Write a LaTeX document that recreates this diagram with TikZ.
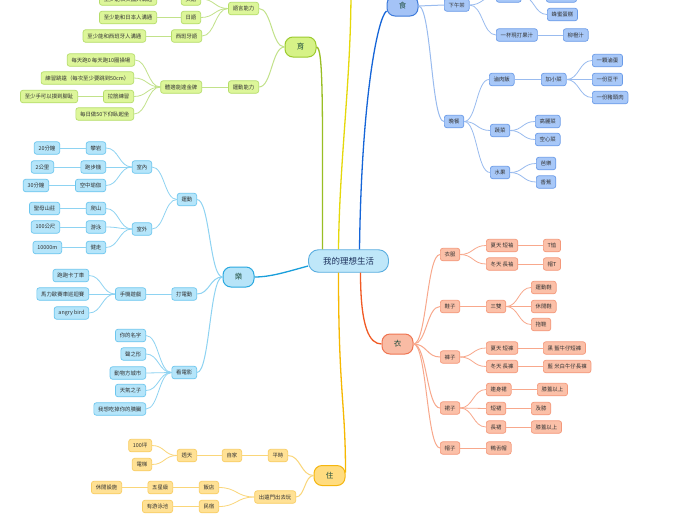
\documentclass[tikz,border=0pt]{standalone}
\usepackage{fontspec}
\newfontfamily\cjk{Noto Sans CJK TC}
\usetikzlibrary{calc}
\definecolor{txt}{HTML}{333333}
\definecolor{maintxt}{HTML}{1F4E3D}
\definecolor{gfill}{HTML}{DDF69A}\definecolor{gdraw}{HTML}{B5DD6A}\definecolor{gline}{HTML}{C2E28A}
\definecolor{gmfill}{HTML}{D6F287}\definecolor{gmdraw}{HTML}{9CCB2E}\definecolor{gcline}{HTML}{99BE24}
\definecolor{cfill}{HTML}{B5E5FA}\definecolor{cdraw}{HTML}{6CC6EE}\definecolor{cline}{HTML}{8ED3F2}
\definecolor{cmfill}{HTML}{B7E4F8}\definecolor{cmdraw}{HTML}{2AA9E0}\definecolor{ccline}{HTML}{1A9FDB}
\definecolor{bfill}{HTML}{A8C8F8}\definecolor{bdraw}{HTML}{6A9BE8}\definecolor{bline}{HTML}{99BBEF}
\definecolor{bmfill}{HTML}{A4C3F6}\definecolor{bmdraw}{HTML}{3E7BDB}\definecolor{bcline}{HTML}{1565D8}
\definecolor{rfill}{HTML}{FBC0A8}\definecolor{rdraw}{HTML}{F4987A}\definecolor{rline}{HTML}{F8A88C}
\definecolor{rmfill}{HTML}{F9BBA4}\definecolor{rmdraw}{HTML}{EF7552}\definecolor{rcline}{HTML}{F15A24}
\definecolor{yfill}{HTML}{FFE195}\definecolor{ydraw}{HTML}{F8CD62}\definecolor{yline}{HTML}{FAD679}
\definecolor{ymfill}{HTML}{FFDC80}\definecolor{ymdraw}{HTML}{F5B60F}\definecolor{ycline}{HTML}{F6B800}
\definecolor{upline}{HTML}{E5D80A}
\definecolor{ctrfill}{HTML}{BFE7F9}\definecolor{ctrdraw}{HTML}{5AAEE0}\definecolor{ctrtxt}{HTML}{1B2F5A}
\tikzset{
  leaf/.style={draw, rounded corners=2.5pt, line width=0.7pt, inner xsep=4.3pt, inner ysep=0pt,
    minimum height=12.5pt, text=txt, font=\cjk\fontsize{5.4}{6}\selectfont},
  gn/.style={leaf, fill=gfill, draw=gdraw},
  cn/.style={leaf, fill=cfill, draw=cdraw},
  bn/.style={leaf, fill=bfill, draw=bdraw},
  rn/.style={leaf, fill=rfill, draw=rdraw},
  yn/.style={leaf, fill=yfill, draw=ydraw},
  mainnode/.style={draw, rounded corners=8pt, line width=1pt, minimum width=31pt, minimum height=20pt,
    inner sep=0pt, text=maintxt, font=\cjk\fontsize{7.5}{8}\selectfont},
  gl/.style={draw=gline, line width=0.8pt},
  cl/.style={draw=cline, line width=0.8pt},
  bl/.style={draw=bline, line width=0.8pt},
  rl/.style={draw=rline, line width=0.8pt},
  yl/.style={draw=yline, line width=0.8pt},
}
\newcommand\edgeR[3]{\draw[#1] let \p1=(#2.east), \p2=(#3.west), \n1={(\x2-\x1)/2} in (\p1) .. controls +(\n1,0) and +(-\n1,0) .. (\p2);}
\newcommand\edgeL[3]{\draw[#1] let \p1=(#2.west), \p2=(#3.east), \n1={(\x1-\x2)/2} in (\p1) .. controls +(-\n1,0) and +(\n1,0) .. (\p2);}
\begin{document}
\begin{tikzpicture}[x=1pt,y=-1pt]
\useasboundingbox (0,0) rectangle (696,520);
\clip (0,0) rectangle (696,520);
\fill[white] (0,0) rectangle (696,520);

% center
\node[draw=ctrdraw, fill=ctrfill, line width=0.9pt, rounded corners=10pt, minimum width=80pt, minimum height=22.5pt,
  inner sep=0pt, text=ctrtxt, font=\cjk\fontsize{8.5}{9}\selectfont] (c) at (348.5,261) {我的理想生活};

% main nodes
\node[mainnode, fill=gmfill, draw=gmdraw] (yu) at (300.5,47) {育};
\node[mainnode, fill=cmfill, draw=cmdraw] (le) at (238.5,277) {樂};
\node[mainnode, fill=bmfill, draw=bmdraw] (shi) at (402.5,6) {食};
\node[mainnode, fill=rmfill, draw=rmdraw] (yi) at (397.5,344) {衣};
\node[mainnode, fill=ymfill, draw=ymdraw] (zhu) at (329.5,475.5) {住};
\coordinate (up) at (351,-10);

% ---------- 育 ----------
\node[gn, anchor=east] (yy) at (259,8.5) {語言能力};
\node[gn, anchor=east] (yd) at (259,87) {運動能力};
\node[gn, anchor=east] (en) at (201,-1) {英語};
\node[gn, anchor=east] (en1) at (157,-1) {至少能和英國人溝通};
\node[gn, anchor=east] (jp) at (201,17.5) {日語};
\node[gn, anchor=east] (jp1) at (157,17.5) {至少能和日本人溝通};
\node[gn, anchor=east] (es) at (202,36) {西班牙語};
\node[gn, anchor=east] (es1) at (146,36) {至少能和西班牙人溝通};
\node[gn, anchor=east] (tf) at (202,87) {體適能達金牌};
\node[gn, anchor=east] (tf1) at (135,60) {每天跑0 每天跑10圈操場};
\node[gn, anchor=east] (tf2) at (134,78) {練習跳遠（每次至少要跳到50cm）};
\node[gn, anchor=east] (tf3) at (134,96.5) {拉筋練習};
\node[gn, anchor=east] (tf31) at (78,96.5) {至少手可以摸到腳趾};
\node[gn, anchor=east] (tf4) at (134,114) {每日做50下仰臥起坐};

% ---------- 樂 ----------
\node[cn, anchor=east] (yd2) at (197,199.5) {運動};
\node[cn, anchor=east] (dd) at (197,294) {打電動};
\node[cn, anchor=east] (kd) at (197,372.5) {看電影};
\node[cn, anchor=east] (sn) at (152,167) {室內};
\node[cn, anchor=east] (sw) at (152,229) {室外};
\node[cn, anchor=east] (pa) at (106,148) {攀岩};
\node[cn, anchor=east] (pa1) at (60,148) {20分鐘};
\node[cn, anchor=east] (pb) at (106,167) {跑步機};
\node[cn, anchor=east] (pb1) at (54,167) {2公里};
\node[cn, anchor=east] (yj) at (106,185.5) {空中瑜伽};
\node[cn, anchor=east] (yj1) at (49,185.5) {30分鐘};
\node[cn, anchor=east] (ps) at (106,208.5) {爬山};
\node[cn, anchor=east] (ps1) at (60,208.5) {聖母山莊};
\node[cn, anchor=east] (yo) at (106,227) {游泳};
\node[cn, anchor=east] (yo1) at (60,227) {100公尺};
\node[cn, anchor=east] (jz) at (106,247.5) {健走};
\node[cn, anchor=east] (jz1) at (62,247.5) {10000m};
\node[cn, anchor=east] (sj) at (146,294) {手機遊戲};
\node[cn, anchor=east] (g1) at (89,275.5) {跑跑卡丁車};
\node[cn, anchor=east] (g2) at (89,294) {馬力歐賽車巡迴賽};
\node[cn, anchor=east] (g3) at (89,313) {angry bird};
\node[cn, anchor=east] (m1) at (146,335.5) {你的名字};
\node[cn, anchor=east] (m2) at (146,354) {聲之形};
\node[cn, anchor=east] (m3) at (146,373) {動物方城市};
\node[cn, anchor=east] (m4) at (146,390.5) {天氣之子};
\node[cn, anchor=east] (m5) at (146,409) {我想吃掉你的胰臟};

% ---------- 住 ----------
\node[yn, anchor=east] (pt) at (288,455.5) {平時};
\node[yn, anchor=east] (cy) at (296,497) {出遠門出去玩};
\node[yn, anchor=east] (zj) at (242,455.5) {自家};
\node[yn, anchor=east] (tt) at (197,455.5) {透天};
\node[yn, anchor=east] (t1) at (152,445.5) {100坪};
\node[yn, anchor=east] (t2) at (152,464.5) {電梯};
\node[yn, anchor=east] (fd) at (219,487.5) {飯店};
\node[yn, anchor=east] (ms) at (219,506.5) {民宿};
\node[yn, anchor=east] (wx) at (173,487.5) {五星級};
\node[yn, anchor=east] (xx) at (122,487.5) {休閒設施};
\node[yn, anchor=east] (yc) at (173,506.5) {有游泳池};

% ---------- 食 ----------
\node[bn, anchor=west] (xw) at (444,5) {下午茶};
\node[bn, anchor=west] (dx) at (496,-4) {小點心};
\node[bn, anchor=west] (dx1) at (546,-4) {草莓蛋糕};
\node[bn, anchor=west] (dx2) at (547,14.5) {蜂蜜蛋糕};
\node[bn, anchor=west] (gz) at (496,35) {一杯現打果汁};
\node[bn, anchor=west] (gz1) at (563,35) {柳橙汁};
\node[bn, anchor=west] (wc) at (444,121.5) {晚餐};
\node[bn, anchor=west] (lr) at (489,79.5) {滷肉飯};
\node[bn, anchor=west] (xc) at (541,79.5) {加小菜};
\node[bn, anchor=west] (c1) at (592,60.5) {一顆滷蛋};
\node[bn, anchor=west] (c2) at (592,79.5) {一份豆干};
\node[bn, anchor=west] (c3) at (592,97.5) {一份豬頭肉};
\node[bn, anchor=west] (sc) at (490,130.5) {蔬菜};
\node[bn, anchor=west] (s1) at (535,121.5) {高麗菜};
\node[bn, anchor=west] (s2) at (535,139.5) {空心菜};
\node[bn, anchor=west] (sg) at (490,172.5) {水果};
\node[bn, anchor=west] (f1) at (536,163.5) {芭樂};
\node[bn, anchor=west] (f2) at (536,182) {香蕉};

% ---------- 衣 ----------
\node[rn, anchor=west] (yf) at (440,254.5) {衣服};
\node[rn, anchor=west] (xt) at (486,245.5) {夏天 短袖};
\node[rn, anchor=west] (xt1) at (543,245.5) {T恤};
\node[rn, anchor=west] (dt) at (486,264) {冬天 長袖};
\node[rn, anchor=west] (dt1) at (543,264) {帽T};
\node[rn, anchor=west] (xz) at (440,306.5) {鞋子};
\node[rn, anchor=west] (ss) at (486,306.5) {三雙};
\node[rn, anchor=west] (x1) at (531,287.5) {運動鞋};
\node[rn, anchor=west] (x2) at (531,306.5) {休閒鞋};
\node[rn, anchor=west] (x3) at (531,324.5) {拖鞋};
\node[rn, anchor=west] (kz) at (440,357) {褲子};
\node[rn, anchor=west] (k1) at (486,348) {夏天 短褲};
\node[rn, anchor=west] (k11) at (543,348) {黑 藍牛仔短褲};
\node[rn, anchor=west] (k2) at (486,366.5) {冬天 長褲};
\node[rn, anchor=west] (k21) at (543,366.5) {藍 米白牛仔長褲};
\node[rn, anchor=west] (qz) at (440,408) {裙子};
\node[rn, anchor=west] (q1) at (486,389.5) {連身裙};
\node[rn, anchor=west] (q11) at (537,389.5) {膝蓋以上};
\node[rn, anchor=west] (q2) at (486,408.5) {短裙};
\node[rn, anchor=west] (q21) at (531,408.5) {及膝};
\node[rn, anchor=west] (q3) at (486,427) {長裙};
\node[rn, anchor=west] (q31) at (531,427) {膝蓋以上};
\node[rn, anchor=west] (mz) at (440,448) {帽子};
\node[rn, anchor=west] (mz1) at (486,448) {鴨舌帽};

% ---------- main connectors ----------
\draw[gcline, line width=1.3pt] ([xshift=-26pt]c.north) .. controls +(0,-140) and +(7,0) .. (yu.east);
\draw[upline, line width=1.3pt] ([xshift=-10pt]c.north) .. controls +(1,-90) and +(0,90) .. (up);
\draw[bcline, line width=1.3pt] ([xshift=11pt]c.north) .. controls +(2,-150) and +(-9,7) .. ([yshift=-5pt]shi.west);
\draw[ccline, line width=1.3pt] ([yshift=-5pt]c.west) .. controls +(-22,6) and +(16,0) .. (le.east);
\draw[rcline, line width=1.3pt] ([xshift=12pt]c.south) .. controls +(0,55) and +(-12,0) .. (yi.west);
\draw[ycline, line width=1.3pt] ([xshift=-10pt]c.south) .. controls +(0,120) and +(0,-70) .. ([yshift=3pt]zhu.east);

% ---------- 育 edges ----------
\edgeL{gl, line width=1pt}{yu}{yy}
\edgeL{gl, line width=1pt}{yu}{yd}
\edgeL{gl}{yy}{en}\edgeL{gl}{yy}{jp}\edgeL{gl}{yy}{es}
\edgeL{gl}{en}{en1}\edgeL{gl}{jp}{jp1}\edgeL{gl}{es}{es1}
\edgeL{gl}{yd}{tf}
\edgeL{gl}{tf}{tf1}\edgeL{gl}{tf}{tf2}\edgeL{gl}{tf}{tf3}\edgeL{gl}{tf}{tf4}
\edgeL{gl}{tf3}{tf31}

% ---------- 樂 edges ----------
\edgeL{cl, line width=1pt}{le}{yd2}
\edgeL{cl, line width=1pt}{le}{dd}
\edgeL{cl, line width=1pt}{le}{kd}
\edgeL{cl}{yd2}{sn}\edgeL{cl}{yd2}{sw}
\edgeL{cl}{sn}{pa}\edgeL{cl}{sn}{pb}\edgeL{cl}{sn}{yj}
\edgeL{cl}{sw}{ps}\edgeL{cl}{sw}{yo}\edgeL{cl}{sw}{jz}
\edgeL{cl}{pa}{pa1}\edgeL{cl}{pb}{pb1}\edgeL{cl}{yj}{yj1}
\edgeL{cl}{ps}{ps1}\edgeL{cl}{yo}{yo1}\edgeL{cl}{jz}{jz1}
\edgeL{cl}{dd}{sj}
\edgeL{cl}{sj}{g1}\edgeL{cl}{sj}{g2}\edgeL{cl}{sj}{g3}
\edgeL{cl}{kd}{m1}\edgeL{cl}{kd}{m2}\edgeL{cl}{kd}{m3}\edgeL{cl}{kd}{m4}\edgeL{cl}{kd}{m5}

% ---------- 住 edges ----------
\edgeL{yl, line width=1pt}{zhu}{pt}
\edgeL{yl, line width=1pt}{zhu}{cy}
\edgeL{yl}{pt}{zj}\edgeL{yl}{zj}{tt}
\edgeL{yl}{tt}{t1}\edgeL{yl}{tt}{t2}
\edgeL{yl}{cy}{fd}\edgeL{yl}{cy}{ms}
\edgeL{yl}{fd}{wx}\edgeL{yl}{wx}{xx}\edgeL{yl}{ms}{yc}

% ---------- 食 edges ----------
\edgeR{bl, line width=1pt}{shi}{xw}
\edgeR{bl, line width=1pt}{shi}{wc}
\edgeR{bl}{xw}{dx}\edgeR{bl}{xw}{gz}
\edgeR{bl}{dx}{dx1}\edgeR{bl}{dx}{dx2}\edgeR{bl}{gz}{gz1}
\edgeR{bl}{wc}{lr}\edgeR{bl}{wc}{sc}\edgeR{bl}{wc}{sg}
\edgeR{bl}{lr}{xc}
\edgeR{bl}{xc}{c1}\edgeR{bl}{xc}{c2}\edgeR{bl}{xc}{c3}
\edgeR{bl}{sc}{s1}\edgeR{bl}{sc}{s2}
\edgeR{bl}{sg}{f1}\edgeR{bl}{sg}{f2}

% ---------- 衣 edges ----------
\edgeR{rl, line width=1pt}{yi}{yf}
\edgeR{rl, line width=1pt}{yi}{xz}
\edgeR{rl, line width=1pt}{yi}{kz}
\edgeR{rl, line width=1pt}{yi}{qz}
\edgeR{rl, line width=1pt}{yi}{mz}
\edgeR{rl}{yf}{xt}\edgeR{rl}{yf}{dt}
\edgeR{rl}{xt}{xt1}\edgeR{rl}{dt}{dt1}
\edgeR{rl}{xz}{ss}
\edgeR{rl}{ss}{x1}\edgeR{rl}{ss}{x2}\edgeR{rl}{ss}{x3}
\edgeR{rl}{kz}{k1}\edgeR{rl}{kz}{k2}
\edgeR{rl}{k1}{k11}\edgeR{rl}{k2}{k21}
\edgeR{rl}{qz}{q1}\edgeR{rl}{qz}{q2}\edgeR{rl}{qz}{q3}
\edgeR{rl}{q1}{q11}\edgeR{rl}{q2}{q21}\edgeR{rl}{q3}{q31}
\edgeR{rl}{mz}{mz1}
\end{tikzpicture}
\end{document}
